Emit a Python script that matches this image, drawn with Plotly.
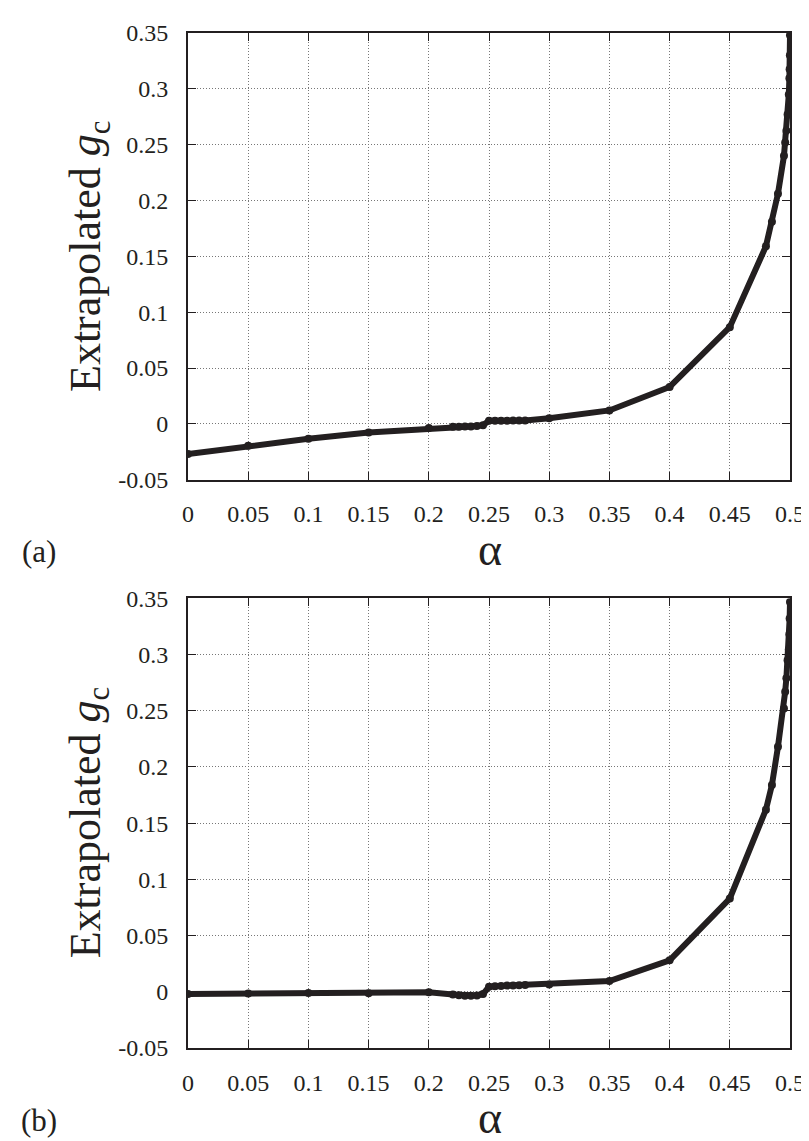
import plotly.graph_objects as go

# ---- data ----
alpha_a = [0, 0.05, 0.1, 0.15, 0.2, 0.22, 0.225, 0.23, 0.235, 0.24, 0.245,
           0.25, 0.255, 0.26, 0.265, 0.27, 0.275, 0.28, 0.3, 0.35, 0.4, 0.45,
           0.48, 0.485, 0.49, 0.495, 0.496, 0.497, 0.498, 0.499, 0.4995,
           0.4997, 0.4999, 0.5]
gc_a = [-0.027, -0.0196, -0.0134, -0.0078, -0.0038, -0.0026, -0.0025, -0.0024,
        -0.0023, -0.002, -0.0012, 0.0027, 0.0028, 0.0028, 0.0028, 0.0029,
        0.003, 0.003, 0.005, 0.012, 0.033, 0.0866, 0.159, 0.181, 0.206, 0.240,
        0.252, 0.2625, 0.277, 0.295, 0.3095, 0.3176, 0.330, 0.348]

alpha_b = [0, 0.05, 0.1, 0.15, 0.2, 0.22, 0.225, 0.23, 0.235, 0.24, 0.245,
           0.25, 0.255, 0.26, 0.265, 0.27, 0.275, 0.28, 0.3, 0.35, 0.4, 0.45,
           0.48, 0.485, 0.49, 0.495, 0.496, 0.497, 0.498, 0.499, 0.4995,
           0.4997, 0.5]
gc_b = [-0.002, -0.0015, -0.001, -0.0012, -0.0005, -0.0025, -0.003, -0.0035,
        -0.0035, -0.0033, -0.002, 0.0045, 0.005, 0.0052, 0.0055, 0.0057,
        0.0058, 0.006, 0.0065, 0.0095, 0.028, 0.083, 0.162, 0.184, 0.218,
        0.252, 0.267, 0.279, 0.295, 0.3045, 0.318, 0.332, 0.3467]

x_ticks = [0, 0.05, 0.1, 0.15, 0.2, 0.25, 0.3, 0.35, 0.4, 0.45, 0.5]
x_ticklabels = ["0", "0.05", "0.1", "0.15", "0.2", "0.25", "0.3", "0.35", "0.4", "0.45", "0.5"]
y_ticks = [-0.05, 0, 0.05, 0.1, 0.15, 0.2, 0.25, 0.3, 0.35]
y_ticklabels = ["-0.05", "0", "0.05", "0.1", "0.15", "0.2", "0.25", "0.3", "0.35"]

panel_labels = ["(a)", "(b)"]
y_title = "Extrapolated <i>g</i><sub>c</sub>"
x_title = "α"

LINE = "#231f20"
FONT = "Liberation Serif, Times New Roman, serif"

fig = go.Figure()
fig.add_trace(go.Scatter(x=alpha_a, y=gc_a, mode="lines+markers",
                         line=dict(color=LINE, width=6),
                         marker=dict(color=LINE, size=8),
                         xaxis="x", yaxis="y", showlegend=False))
fig.add_trace(go.Scatter(x=alpha_b, y=gc_b, mode="lines+markers",
                         line=dict(color=LINE, width=6),
                         marker=dict(color=LINE, size=8),
                         xaxis="x2", yaxis="y2", showlegend=False))

W, H = 809, 1141
L, R, T, B = 180, 23, 22, 101
pw, ph = W - L - R, H - T - B

def px(x):
    return (x - L) / pw

def py(y):
    return 1 - (y - T) / ph

dom_a = [py(470), 1.0]
dom_b = [0.0, py(589)]

common_x = dict(range=[0, 0.5], tickmode="array", tickvals=x_ticks, ticktext=x_ticklabels,
                showgrid=True, gridcolor="#777777", griddash="1px,2px", gridwidth=1,
                showline=True, linecolor="#231f20", linewidth=2, mirror="ticks",
                ticks="inside", ticklen=8, tickcolor="#231f20", tickwidth=1,
                zeroline=False, tickfont=dict(family=FONT, size=24, color="#231f20"),
                ticklabelstandoff=12)
common_y = dict(range=[-0.05, 0.35], tickmode="array", tickvals=y_ticks, ticktext=y_ticklabels,
                showgrid=True, gridcolor="#777777", griddash="1px,2px", gridwidth=1,
                showline=True, linecolor="#231f20", linewidth=2, mirror="ticks",
                ticks="inside", ticklen=8, tickcolor="#231f20", tickwidth=1,
                zeroline=False, tickfont=dict(family=FONT, size=24, color="#231f20"),
                ticklabelstandoff=13)

fig.update_layout(
    width=W, height=H,
    margin=dict(l=L, r=R, t=T, b=B),
    paper_bgcolor="white", plot_bgcolor="white",
    xaxis=dict(domain=[0, 1], anchor="y", **common_x),
    yaxis=dict(domain=dom_a, anchor="x", **common_y),
    xaxis2=dict(domain=[0, 1], anchor="y2", **common_x),
    yaxis2=dict(domain=dom_b, anchor="x2", **common_y),
)

ann = []
for lab, ycen, ax_y, lab_y in [(panel_labels[0], 246, 540, 542), (panel_labels[1], 814, 1110, 1113)]:
    ann.append(dict(text=y_title, x=px(80), y=py(ycen), xref="paper", yref="paper",
                    textangle=-90, showarrow=False, xanchor="center", yanchor="middle",
                    font=dict(family=FONT, size=44, color="#231f20")))
    ann.append(dict(text=x_title, x=px(484), y=py(ax_y), xref="paper", yref="paper",
                    showarrow=False, xanchor="center", yanchor="middle",
                    font=dict(family=FONT, size=46, color="#231f20")))
    ann.append(dict(text=lab, x=px(30), y=py(lab_y), xref="paper", yref="paper",
                    showarrow=False, xanchor="center", yanchor="middle",
                    font=dict(family=FONT, size=31, color="#231f20")))
fig.update_layout(annotations=ann)

fig.write_html("out.html")
